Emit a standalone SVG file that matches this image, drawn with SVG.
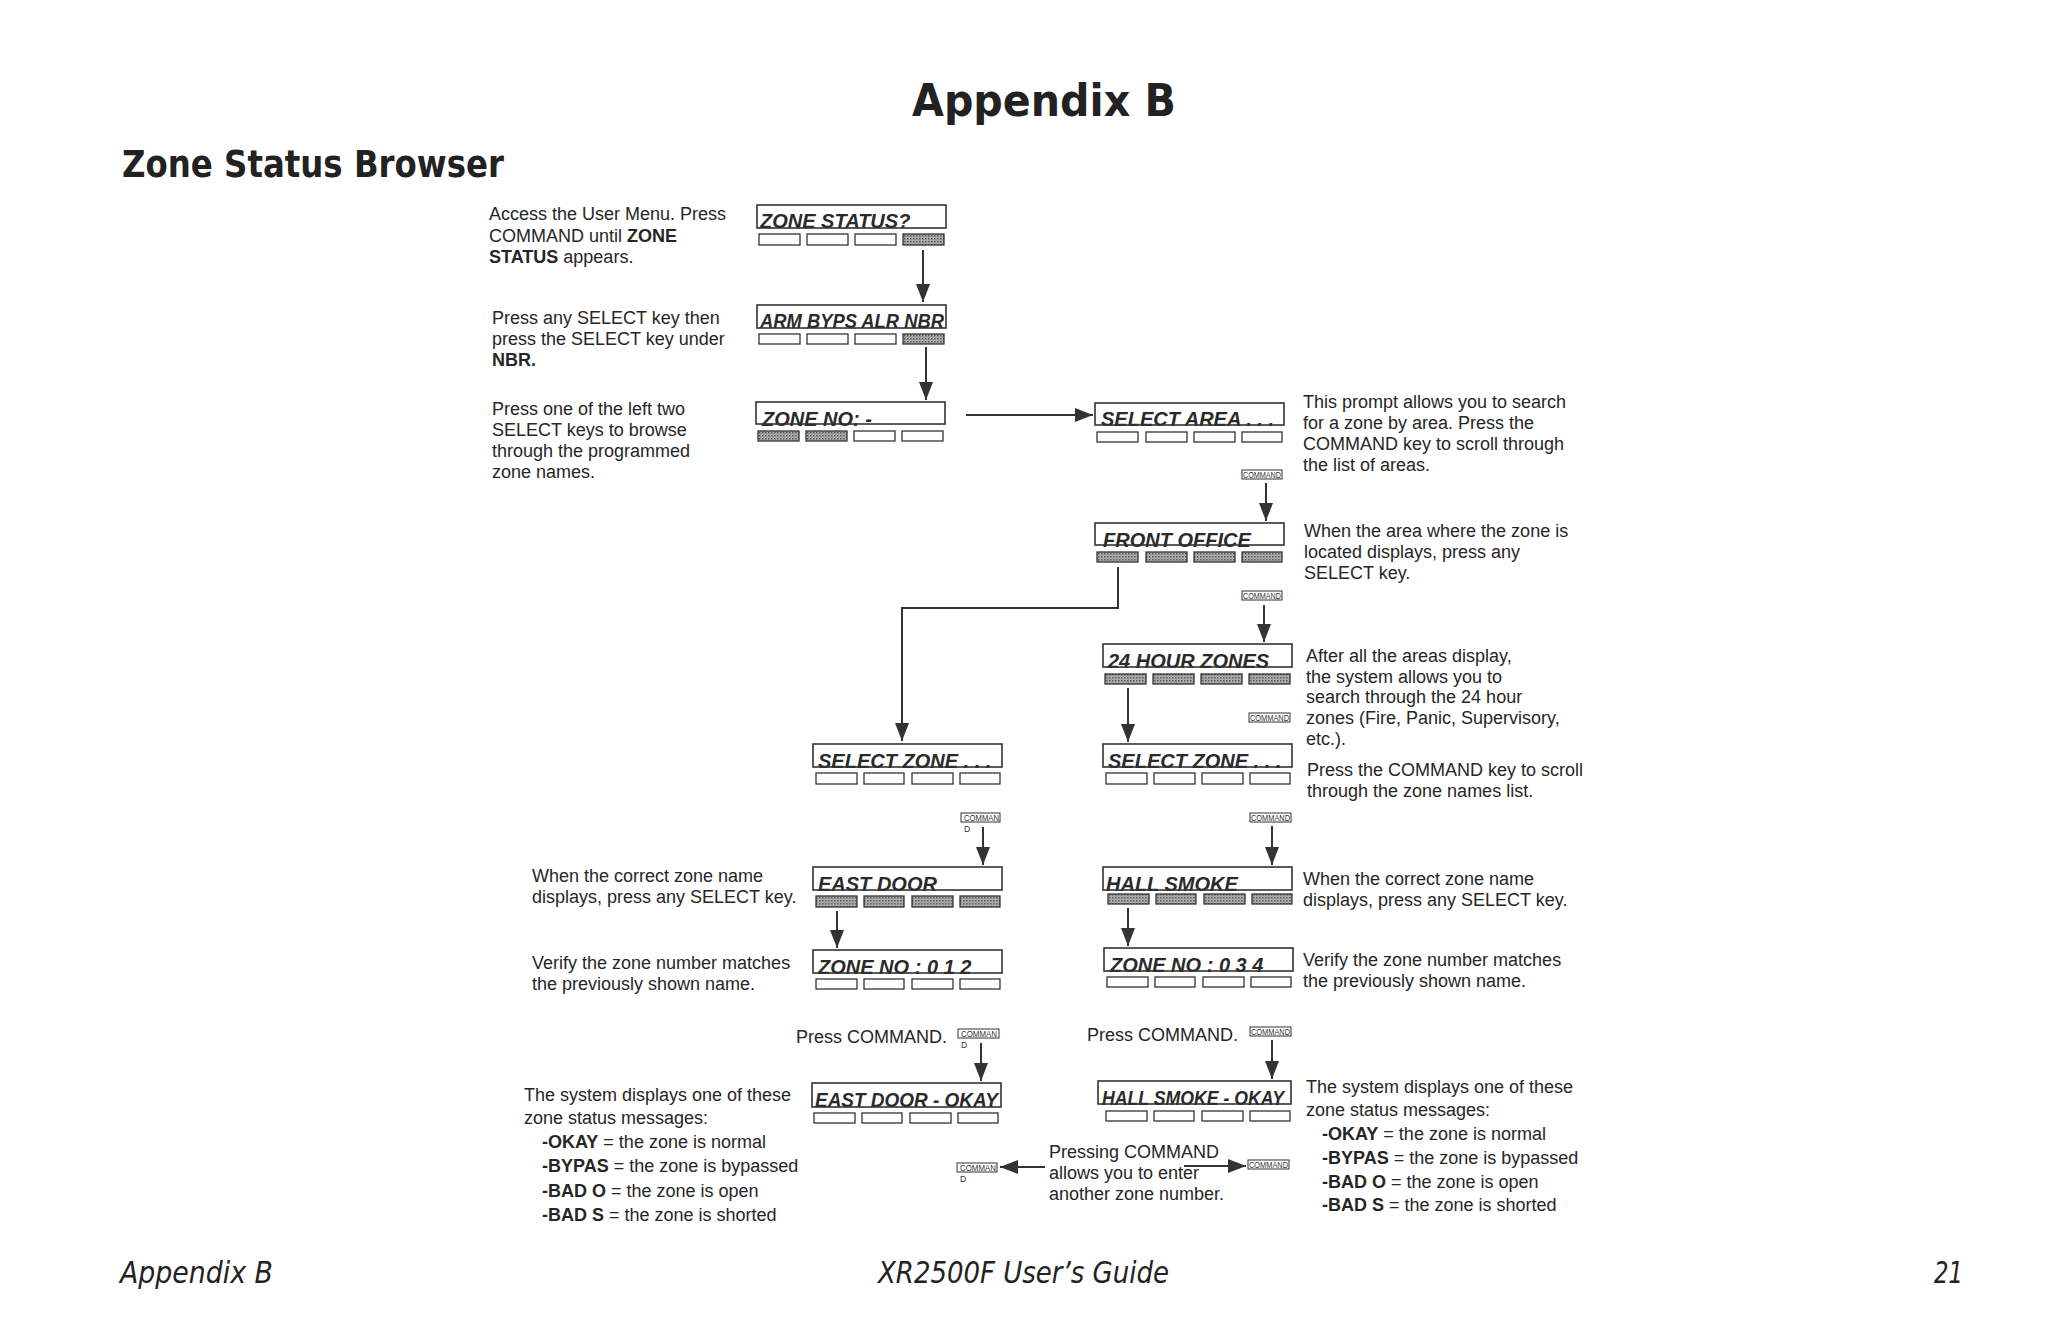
<svg xmlns="http://www.w3.org/2000/svg" width="2048" height="1325" viewBox="0 0 2048 1325">
<style>
  .t{font-family:"Liberation Sans",Arial,sans-serif;font-size:18px;fill:#262626}
  .b{font-weight:bold}
  .lcd{font-family:"Liberation Sans",Arial,sans-serif;font-size:20px;font-weight:bold;font-style:italic;fill:#2a2a2a}
  .scr{fill:none;stroke:#333;stroke-width:1.6}
  .key{fill:#fff;stroke:#333;stroke-width:1.3}
  .keyOn{fill:url(#dots);stroke:#333;stroke-width:1.3}
  .cmd{fill:#fff;stroke:#333;stroke-width:1}
  .cmdt{font-family:"Liberation Sans",Arial,sans-serif;font-size:8.5px;fill:#333}
  .conn{fill:none;stroke:#333;stroke-width:2}
  .h1{font-family:"DejaVu Sans",Verdana,sans-serif;font-weight:bold;fill:#222}
  .ft{font-family:"DejaVu Sans Condensed","DejaVu Sans",sans-serif;font-style:italic;font-size:30px;fill:#222}
</style>
<defs>
  <pattern id="dots" width="3" height="3" patternUnits="userSpaceOnUse">
    <rect width="3" height="3" fill="#b4b4b4"/>
    <rect width="1.5" height="1.5" fill="#555"/>
    <rect x="1.5" y="1.5" width="1" height="1" fill="#777"/>
  </pattern>
  <marker id="ah" markerUnits="userSpaceOnUse" markerWidth="20" markerHeight="14" refX="18" refY="7" orient="auto">
    <path d="M0,0 L18,7 L0,14 z" fill="#333"/>
  </marker>
</defs>
<rect width="2048" height="1325" fill="#fff"/>

<g id="headings">
  <text class="h1" x="912" y="116" font-size="45" textLength="264" lengthAdjust="spacingAndGlyphs">Appendix B</text>
  <text class="h1" x="122" y="177" font-size="37" textLength="382" lengthAdjust="spacingAndGlyphs">Zone Status Browser</text>
</g>

<g id="connectors">
  <line class="conn" x1="923" y1="250" x2="923" y2="302" marker-end="url(#ah)"/>
  <line class="conn" x1="926" y1="347" x2="926" y2="400" marker-end="url(#ah)"/>
  <line class="conn" x1="966" y1="415" x2="1093" y2="415" marker-end="url(#ah)"/>
  <line class="conn" x1="1266" y1="483" x2="1266" y2="521" marker-end="url(#ah)"/>
  <polyline class="conn" points="1118,567 1118,608 902,608 902,741" marker-end="url(#ah)"/>
  <line class="conn" x1="1264" y1="605" x2="1264" y2="642" marker-end="url(#ah)"/>
  <line class="conn" x1="1128" y1="688" x2="1128" y2="742" marker-end="url(#ah)"/>
  <line class="conn" x1="983" y1="827" x2="983" y2="865" marker-end="url(#ah)"/>
  <line class="conn" x1="1272" y1="826" x2="1272" y2="865" marker-end="url(#ah)"/>
  <line class="conn" x1="837" y1="911" x2="837" y2="948" marker-end="url(#ah)"/>
  <line class="conn" x1="1128" y1="908" x2="1128" y2="946" marker-end="url(#ah)"/>
  <line class="conn" x1="981" y1="1043" x2="981" y2="1081" marker-end="url(#ah)"/>
  <line class="conn" x1="1272" y1="1040" x2="1272" y2="1079" marker-end="url(#ah)"/>
  <line class="conn" x1="1045" y1="1167" x2="1000" y2="1167" marker-end="url(#ah)"/>
  <line class="conn" x1="1184" y1="1166" x2="1246" y2="1166" marker-end="url(#ah)"/>
</g>

<!-- displays -->
<g id="n-zone-status" transform="translate(757,205)">
  <text class="lcd" x="3" y="23">ZONE STATUS?</text>
  <rect class="scr" width="189" height="23"/>
  <rect class="key" x="2" y="29" width="41" height="11"/><rect class="key" x="50" y="29" width="41" height="11"/><rect class="key" x="98" y="29" width="41" height="11"/><rect class="keyOn" x="146" y="29" width="41" height="11"/>
</g>
<g id="n-arm-byps" transform="translate(757,305)">
  <text class="lcd" x="3" y="23" textLength="184" lengthAdjust="spacingAndGlyphs">ARM BYPS ALR NBR</text>
  <rect class="scr" width="189" height="23"/>
  <rect class="key" x="2" y="29" width="41" height="10"/><rect class="key" x="50" y="29" width="41" height="10"/><rect class="key" x="98" y="29" width="41" height="10"/><rect class="keyOn" x="146" y="29" width="41" height="10"/>
</g>
<g id="n-zone-no" transform="translate(756,402)">
  <text class="lcd" x="6" y="24">ZONE NO: -</text>
  <rect class="scr" width="189" height="22"/>
  <rect class="keyOn" x="2" y="29" width="41" height="10"/><rect class="keyOn" x="50" y="29" width="41" height="10"/><rect class="key" x="98" y="29" width="41" height="10"/><rect class="key" x="146" y="29" width="41" height="10"/>
</g>
<g id="n-select-area" transform="translate(1095,403)">
  <text class="lcd" x="6" y="23">SELECT AREA . . .</text>
  <rect class="scr" width="189" height="22"/>
  <rect class="key" x="2" y="29" width="41" height="10"/><rect class="key" x="51" y="29" width="41" height="10"/><rect class="key" x="99" y="29" width="41" height="10"/><rect class="key" x="147" y="29" width="40" height="10"/>
</g>
<g id="n-front-office" transform="translate(1095,523)">
  <text class="lcd" x="8" y="24">FRONT OFFICE</text>
  <rect class="scr" width="189" height="22"/>
  <rect class="keyOn" x="2" y="29" width="41" height="10"/><rect class="keyOn" x="51" y="29" width="41" height="10"/><rect class="keyOn" x="99" y="29" width="41" height="10"/><rect class="keyOn" x="147" y="29" width="40" height="10"/>
</g>
<g id="n-24-hour" transform="translate(1103,644)">
  <text class="lcd" x="5" y="24">24 HOUR ZONES</text>
  <rect class="scr" width="189" height="23"/>
  <rect class="keyOn" x="2" y="30" width="41" height="10"/><rect class="keyOn" x="50" y="30" width="41" height="10"/><rect class="keyOn" x="98" y="30" width="41" height="10"/><rect class="keyOn" x="146" y="30" width="41" height="10"/>
</g>
<g id="n-select-zone-r" transform="translate(1103,744)">
  <text class="lcd" x="5" y="24">SELECT ZONE . . .</text>
  <rect class="scr" width="189" height="23"/>
  <rect class="key" x="3" y="29" width="41" height="11"/><rect class="key" x="51" y="29" width="41" height="11"/><rect class="key" x="99" y="29" width="41" height="11"/><rect class="key" x="147" y="29" width="40" height="11"/>
</g>
<g id="n-select-zone-l" transform="translate(813,744)">
  <text class="lcd" x="5" y="24">SELECT ZONE . . .</text>
  <rect class="scr" width="189" height="23"/>
  <rect class="key" x="3" y="29" width="41" height="11"/><rect class="key" x="51" y="29" width="40" height="11"/><rect class="key" x="99" y="29" width="41" height="11"/><rect class="key" x="147" y="29" width="40" height="11"/>
</g>
<g id="n-east-door" transform="translate(813,867)">
  <text class="lcd" x="5" y="24">EAST DOOR</text>
  <rect class="scr" width="189" height="23"/>
  <rect class="keyOn" x="3" y="29" width="41" height="11"/><rect class="keyOn" x="51" y="29" width="40" height="11"/><rect class="keyOn" x="99" y="29" width="41" height="11"/><rect class="keyOn" x="147" y="29" width="40" height="11"/>
</g>
<g id="n-zone-012" transform="translate(813,950)">
  <text class="lcd" x="5" y="24">ZONE NO : 0 1 2</text>
  <rect class="scr" width="189" height="23"/>
  <rect class="key" x="3" y="29" width="41" height="10"/><rect class="key" x="51" y="29" width="40" height="10"/><rect class="key" x="99" y="29" width="41" height="10"/><rect class="key" x="147" y="29" width="40" height="10"/>
</g>
<g id="n-hall-smoke" transform="translate(1103,867)">
  <text class="lcd" x="3" y="24">HALL SMOKE</text>
  <rect class="scr" width="189" height="23"/>
  <rect class="keyOn" x="5" y="27" width="41" height="10"/><rect class="keyOn" x="53" y="27" width="40" height="10"/><rect class="keyOn" x="101" y="27" width="41" height="10"/><rect class="keyOn" x="149" y="27" width="40" height="10"/>
</g>
<g id="n-zone-034" transform="translate(1104,948)">
  <text class="lcd" x="6" y="24">ZONE NO : 0 3 4</text>
  <rect class="scr" width="189" height="23"/>
  <rect class="key" x="3" y="29" width="41" height="10"/><rect class="key" x="51" y="29" width="40" height="10"/><rect class="key" x="99" y="29" width="41" height="10"/><rect class="key" x="147" y="29" width="40" height="10"/>
</g>
<g id="n-east-door-okay" transform="translate(812,1083)">
  <text class="lcd" x="3" y="24" textLength="183" lengthAdjust="spacingAndGlyphs">EAST DOOR - OKAY</text>
  <rect class="scr" width="189" height="24"/>
  <rect class="key" x="2" y="30" width="41" height="10"/><rect class="key" x="50" y="30" width="40" height="10"/><rect class="key" x="98" y="30" width="41" height="10"/><rect class="key" x="146" y="30" width="40" height="10"/>
</g>
<g id="n-hall-smoke-okay" transform="translate(1098,1081)">
  <text class="lcd" x="4" y="24" font-size="18" textLength="182" lengthAdjust="spacingAndGlyphs">HALL SMOKE - OKAY</text>
  <rect class="scr" width="193" height="23"/>
  <rect class="key" x="8" y="30" width="41" height="10"/><rect class="key" x="56" y="30" width="40" height="10"/><rect class="key" x="104" y="30" width="41" height="10"/><rect class="key" x="152" y="30" width="40" height="10"/>
</g>

<!-- COMMAND buttons -->
<g id="n-cmd-1"><rect class="cmd" x="1242" y="470" width="40" height="9"/><text class="cmdt" x="1243" y="478" textLength="38" lengthAdjust="spacingAndGlyphs">COMMAND</text></g>
<g id="n-cmd-2"><rect class="cmd" x="1242" y="591" width="40" height="9"/><text class="cmdt" x="1243" y="599" textLength="38" lengthAdjust="spacingAndGlyphs">COMMAND</text></g>
<g id="n-cmd-3"><rect class="cmd" x="1249" y="713" width="41" height="9"/><text class="cmdt" x="1250" y="721" textLength="39" lengthAdjust="spacingAndGlyphs">COMMAND</text></g>
<g id="n-cmd-4"><rect class="cmd" x="1250" y="813" width="41" height="9"/><text class="cmdt" x="1251" y="821" textLength="39" lengthAdjust="spacingAndGlyphs">COMMAND</text></g>
<g id="n-cmd-5"><rect class="cmd" x="1250" y="1027" width="41" height="9"/><text class="cmdt" x="1251" y="1035" textLength="39" lengthAdjust="spacingAndGlyphs">COMMAND</text></g>
<g id="n-cmd-6"><rect class="cmd" x="1248" y="1160" width="41" height="9"/><text class="cmdt" x="1249" y="1168" textLength="39" lengthAdjust="spacingAndGlyphs">COMMAND</text></g>
<g id="n-cmd-7"><rect class="cmd" x="961" y="813" width="39" height="9"/><text class="cmdt" x="964" y="821" textLength="35" lengthAdjust="spacingAndGlyphs">COMMAN</text><text class="cmdt" x="964" y="832">D</text></g>
<g id="n-cmd-8"><rect class="cmd" x="958" y="1029" width="41" height="9"/><text class="cmdt" x="961" y="1037" textLength="36" lengthAdjust="spacingAndGlyphs">COMMAN</text><text class="cmdt" x="961" y="1048">D</text></g>
<g id="n-cmd-9"><rect class="cmd" x="957" y="1163" width="40" height="9"/><text class="cmdt" x="960" y="1171" textLength="36" lengthAdjust="spacingAndGlyphs">COMMAN</text><text class="cmdt" x="960" y="1182">D</text></g>

<!-- notes -->
<g id="note-1" class="t">
  <text x="489" y="220">Access the User Menu. Press</text>
  <text x="489" y="242">COMMAND until <tspan class="b">ZONE</tspan></text>
  <text x="489" y="263"><tspan class="b">STATUS</tspan> appears.</text>
</g>
<g id="note-2" class="t">
  <text x="492" y="324">Press any SELECT key then</text>
  <text x="492" y="345">press the SELECT key under</text>
  <text x="492" y="366" class="t b">NBR.</text>
</g>
<g id="note-3" class="t">
  <text x="492" y="415">Press one of the left two</text>
  <text x="492" y="436">SELECT keys to browse</text>
  <text x="492" y="457">through the programmed</text>
  <text x="492" y="478">zone names.</text>
</g>
<g id="note-4" class="t">
  <text x="1303" y="408">This prompt allows you to search</text>
  <text x="1303" y="429">for a zone by area. Press the</text>
  <text x="1303" y="450">COMMAND key to scroll through</text>
  <text x="1303" y="471">the list of areas.</text>
</g>
<g id="note-5" class="t">
  <text x="1304" y="537">When the area where the zone is</text>
  <text x="1304" y="558">located displays, press any</text>
  <text x="1304" y="579">SELECT key.</text>
</g>
<g id="note-6" class="t">
  <text x="1306" y="662">After all the areas display,</text>
  <text x="1306" y="683">the system allows you to</text>
  <text x="1306" y="703">search through the 24 hour</text>
  <text x="1306" y="724">zones (Fire, Panic, Supervisory,</text>
  <text x="1306" y="745">etc.).</text>
</g>
<g id="note-7" class="t">
  <text x="1307" y="776">Press the COMMAND key to scroll</text>
  <text x="1307" y="797">through the zone names list.</text>
</g>
<g id="note-8" class="t">
  <text x="532" y="882">When the correct zone name</text>
  <text x="532" y="903">displays, press any SELECT key.</text>
</g>
<g id="note-9" class="t">
  <text x="1303" y="885">When the correct zone name</text>
  <text x="1303" y="906">displays, press any SELECT key.</text>
</g>
<g id="note-10" class="t">
  <text x="532" y="969">Verify the zone number matches</text>
  <text x="532" y="990">the previously shown name.</text>
</g>
<g id="note-11" class="t">
  <text x="1303" y="966">Verify the zone number matches</text>
  <text x="1303" y="987">the previously shown name.</text>
</g>
<g id="note-12" class="t"><text x="796" y="1043">Press COMMAND.</text></g>
<g id="note-13" class="t"><text x="1087" y="1041">Press COMMAND.</text></g>
<g id="note-14" class="t">
  <text x="524" y="1101">The system displays one of these</text>
  <text x="524" y="1124">zone status messages:</text>
  <text x="542" y="1148"><tspan class="b">-OKAY</tspan> = the zone is normal</text>
  <text x="542" y="1172"><tspan class="b">-BYPAS</tspan> = the zone is bypassed</text>
  <text x="542" y="1197"><tspan class="b">-BAD O</tspan> = the zone is open</text>
  <text x="542" y="1221"><tspan class="b">-BAD S</tspan> = the zone is shorted</text>
</g>
<g id="note-15" class="t">
  <text x="1306" y="1093">The system displays one of these</text>
  <text x="1306" y="1116">zone status messages:</text>
  <text x="1322" y="1140"><tspan class="b">-OKAY</tspan> = the zone is normal</text>
  <text x="1322" y="1164"><tspan class="b">-BYPAS</tspan> = the zone is bypassed</text>
  <text x="1322" y="1188"><tspan class="b">-BAD O</tspan> = the zone is open</text>
  <text x="1322" y="1211"><tspan class="b">-BAD S</tspan> = the zone is shorted</text>
</g>
<g id="note-16" class="t">
  <text x="1049" y="1158">Pressing COMMAND</text>
  <text x="1049" y="1179">allows you to enter</text>
  <text x="1049" y="1200">another zone number.</text>
</g>

<g id="footer">
  <text class="ft" x="120" y="1283" textLength="153" lengthAdjust="spacingAndGlyphs">Appendix B</text>
  <text class="ft" x="878" y="1283" textLength="291" lengthAdjust="spacingAndGlyphs">XR2500F User’s Guide</text>
  <text class="ft" x="1934" y="1283" textLength="29" lengthAdjust="spacingAndGlyphs">21</text>
</g>
</svg>
